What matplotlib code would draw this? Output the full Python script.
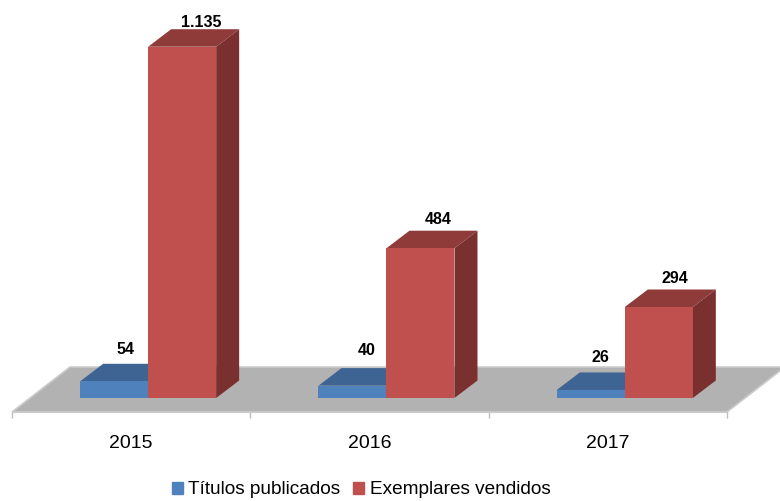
#!/usr/bin/env python3
# Fake-3D clustered bars on a grey floor: titles published vs copies sold.

import matplotlib
matplotlib.use("Agg")
import matplotlib.pyplot as plt
from matplotlib.patches import Patch, Polygon
import numpy as np

years = ["2015", "2016", "2017"]
titulos = [54, 40, 26]
exemplares = [1135, 484, 294]
titulos_labels = ["54", "40", "26"]
exemplares_labels = ["1.135", "484", "294"]

# label offsets from the back of each bar's top, in pixels
titulos_nudge = [(-12, 14), (-9, 18), (-13, 15)]
exemplares_nudge = [(-4, 7), (-5, 11), (-7, 11)]

BLUE, BLUE_TOP = "#4F81BD", "#3E6493"
RED, RED_TOP, RED_SIDE = "#C0504D", "#8E3B39", "#7A302F"
FLOOR = "#B2B2B2"

PX_X = 238.33          # pixels per category
PX_Y = 0.3095          # pixels per unit of value
BASE_PX = 398          # pixel row of value 0
DX, DY = 23 / PX_X, 17.5 / PX_Y
BAR_W = 68 / PX_X
BAR_SHIFT = 0.5 + 17 / PX_X

plt.rcParams["font.family"] = ["Liberation Sans", "DejaVu Sans"]

fig = plt.figure(figsize=(7.8, 5.01), dpi=100)
ax = fig.add_axes([0, 0, 1, 1])
ax.set_xlim(-12 / PX_X, 768 / PX_X)
ax.set_ylim((BASE_PX - 501) / PX_Y, BASE_PX / PX_Y)

# floor
floor_front = (BASE_PX - 412) / PX_Y
floor_back = (BASE_PX - 367) / PX_Y
floor_dx = 58 / PX_X
ax.add_patch(Polygon([(0, floor_front), (3, floor_front),
                      (3 + floor_dx, floor_back), (floor_dx, floor_back)],
                     facecolor=FLOOR, edgecolor="#CBCBCB", lw=1.2, zorder=1))


def box(x0, value, color, top, side, z):
    ax.bar(x0, value, BAR_W, align="edge", color=color, lw=0, zorder=z + 0.2)
    x1 = x0 + BAR_W
    ax.add_patch(Polygon([(x0, value), (x1, value), (x1 + DX, value + DY), (x0 + DX, value + DY)],
                         facecolor=top, lw=0, zorder=z))
    if side is not None:
        ax.add_patch(Polygon([(x1, 0), (x1 + DX, DY), (x1 + DX, value + DY), (x1, value)],
                             facecolor=side, lw=0, zorder=z))


def label(x, value, text, nudge):
    ax.annotate(text, (x + DX, value + DY), xytext=(nudge[0] * 0.72, nudge[1] * 0.72),
                textcoords="offset points", ha="center", va="center",
                fontsize=11.5, fontweight="bold", color="black", zorder=9)


for i in range(len(years)):
    xb = i + BAR_SHIFT - BAR_W
    xr = i + BAR_SHIFT
    box(xb, titulos[i], BLUE, BLUE_TOP, None, 2 + i)
    box(xr, exemplares[i], RED, RED_TOP, RED_SIDE, 2.5 + i)
    label(xb + BAR_W / 2, titulos[i], titulos_labels[i], titulos_nudge[i])
    label(xr + BAR_W / 2, exemplares[i], exemplares_labels[i], exemplares_nudge[i])

# category axis sits on the floor's front edge
for name in ("top", "left", "right"):
    ax.spines[name].set_visible(False)
ax.spines["bottom"].set_position(("data", floor_front))
ax.spines["bottom"].set_bounds(0, 3)
ax.spines["bottom"].set_color("#CBCBCB")
ax.set_yticks([])
ax.set_xticks(np.arange(len(years) + 1))
ax.set_xticklabels([])
ax.set_xticks(np.arange(len(years)) + 0.5, years, minor=True)
ax.tick_params(axis="x", which="major", length=4.5, color="#BDBDBD", width=1)
ax.tick_params(axis="x", which="minor", length=0, pad=16.7, labelsize=14, labelcolor="black")
ax.patch.set_alpha(0)

handles = [Patch(color=BLUE, label="Títulos publicados"),
           Patch(color=RED, label="Exemplares vendidos")]
fig.legend(handles=handles, ncol=2, loc="center", bbox_to_anchor=(361 / 780, 1 - 490 / 501),
           frameon=False, fontsize=13.7, handlelength=0.58, handleheight=0.58,
           handletextpad=0.3, columnspacing=0.65, borderpad=0, borderaxespad=0)

fig.savefig("out.png", dpi=100)
plt.close(fig)
